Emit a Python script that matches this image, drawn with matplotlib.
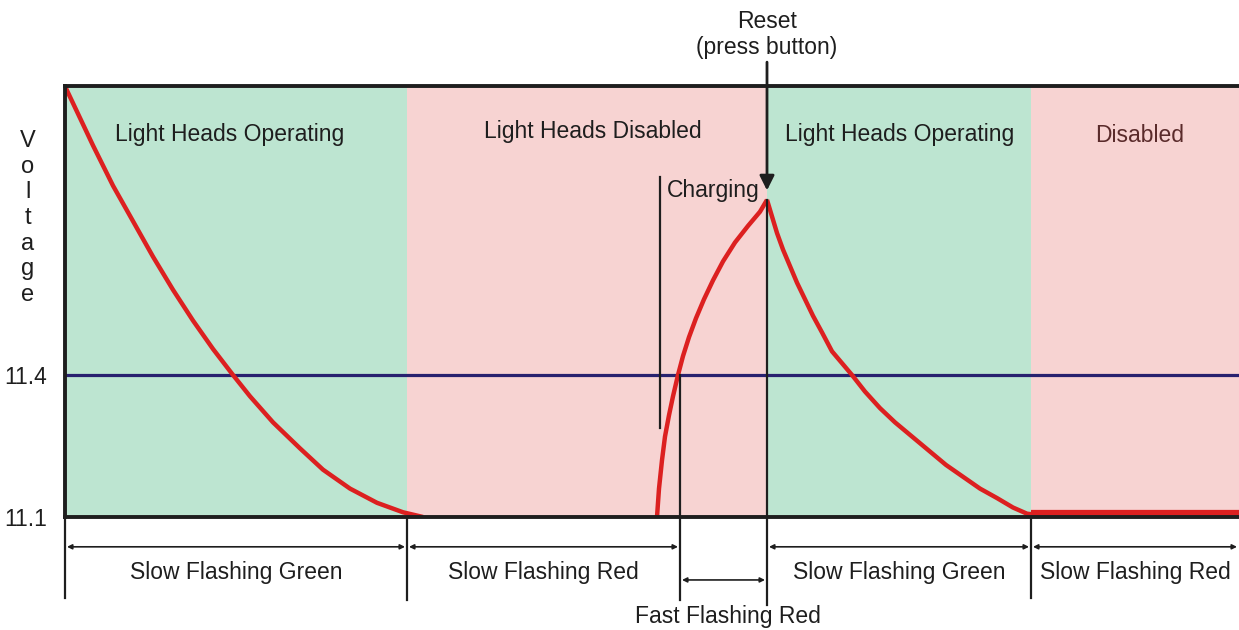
import matplotlib.pyplot as plt

plt.rcParams['font.family'] = ['Liberation Sans', 'DejaVu Sans']

# discharge 1 (time units, volts)
t_dis1 = [0, 28, 48, 68, 88, 108, 128, 148, 168, 185, 208, 235, 258, 285, 312, 338, 358]
v_dis1 = [12.01, 11.885, 11.80, 11.725, 11.65, 11.58, 11.515, 11.455, 11.40, 11.355,
          11.30, 11.245, 11.20, 11.16, 11.13, 11.11, 11.10]

# charging
t_chg = [592, 594, 597, 600, 604, 608, 613, 618, 624, 631, 639, 648, 658, 670, 683, 695, 702]
v_chg = [11.10, 11.16, 11.22, 11.27, 11.315, 11.355, 11.40, 11.44, 11.48, 11.52, 11.56,
         11.60, 11.64, 11.68, 11.715, 11.745, 11.77]

# discharge 2
t_dis2 = [702, 707, 712, 718, 725, 732, 740, 748, 757, 767, 777, 787, 800, 815, 830, 847,
          864, 881, 898, 915, 932, 948, 962, 966]
v_dis2 = [11.77, 11.735, 11.70, 11.665, 11.63, 11.595, 11.56, 11.525, 11.49, 11.45, 11.425,
          11.40, 11.365, 11.33, 11.30, 11.27, 11.24, 11.21, 11.185, 11.16, 11.14, 11.12,
          11.107, 11.106]

# flat at cut-off
t_flat = [966, 1174]
v_flat = [11.108, 11.108]

threshold = 11.4
yticks = [11.1, 11.4]
ytick_labels = ['11.1', '11.4']

# state bands
band_edges = [0, 342, 702, 966, 1174]
band_kind = ['on', 'off', 'on', 'off']
band_labels = ['Light Heads Operating', 'Light Heads Disabled', 'Light Heads Operating', 'Disabled']

# flashing segments
flash_segments = [(0, 342, 'Slow Flashing Green'), (342, 615, 'Slow Flashing Red'),
                  (702, 966, 'Slow Flashing Green'), (966, 1174, 'Slow Flashing Red')]
fast_segment = (615, 702, 'Fast Flashing Red')
t_charge_start = 595
t_reset = 702

GREEN = '#bde5d1'
PINK = '#f7d3d2'
RED = '#dc2020'
NAVY = '#28216f'
INK = '#1e1e1e'
FS = 16.5

fig = plt.figure(figsize=(12.39, 6.30), dpi=100)
ax = fig.add_axes([65 / 1239, 113 / 630, 1174 / 1239, 431 / 630])
ax.set_xlim(0, 1174)
ax.set_ylim(11.1, 12.0106)

for i, kind in enumerate(band_kind):
    ax.axvspan(band_edges[i], band_edges[i + 1], color=GREEN if kind == 'on' else PINK, lw=0, zorder=0)

ax.axhline(threshold, color=NAVY, lw=2.3, zorder=2)

ax.plot(t_dis1, v_dis1, color=RED, lw=3.2, zorder=3, solid_capstyle='butt')
ax.plot(t_chg, v_chg, color=RED, lw=3.2, zorder=3, solid_capstyle='butt')
ax.plot(t_dis2, v_dis2, color=RED, lw=3.2, zorder=3, solid_capstyle='butt')
ax.plot(t_flat, v_flat, color=RED, lw=4.5, zorder=3, solid_capstyle='butt')

# band titles
title_x = [165, 528, 835, 1075]
title_y = [11.909, 11.915, 11.909, 11.905]
for i, lab in enumerate(band_labels):
    col = '#5a2b2b' if lab == 'Disabled' else INK
    ax.text(title_x[i], title_y[i], lab, ha='center', va='center', fontsize=FS, color=col, zorder=5)

# spines / ticks
for s in ['left', 'top', 'bottom']:
    ax.spines[s].set_linewidth(2.8)
    ax.spines[s].set_color(INK)
    ax.spines[s].set_zorder(6)
ax.spines['right'].set_visible(False)
ax.set_xticks([])
ax.set_yticks(yticks)
ax.set_yticklabels(ytick_labels, fontsize=16.5, color=INK)
ax.tick_params(axis='y', length=0, pad=13)

fig.text(28 / 1239, 1 - 218 / 630, 'V\no\nl\nt\na\ng\ne', ha='center', va='center',
         fontsize=17, color=INK, linespacing=1.22)

# charging marker
ax.plot([t_charge_start, t_charge_start], [11.818, 11.288], color=INK, lw=1.6, zorder=4)
ax.text(t_charge_start + 7, 11.79, 'Charging', ha='left', va='center', fontsize=FS, color=INK, zorder=5)

# reset arrow + label
ax.annotate('', xy=(t_reset, 11.79), xytext=(t_reset, 12.061), annotation_clip=False,
            arrowprops=dict(arrowstyle='-|>', color=INK, lw=2, mutation_scale=22, shrinkA=0, shrinkB=0),
            zorder=6)
ax.text(t_reset, 12.12, 'Reset\n(press button)', ha='center', va='center', fontsize=FS,
        color=INK, linespacing=1.15, clip_on=False)

# vertical guide lines
ax.plot([t_reset, t_reset], [11.77, 10.914], color=INK, lw=1.6, clip_on=False, zorder=4)
ax.plot([615, 615], [11.40, 10.925], color=INK, lw=1.6, clip_on=False, zorder=4)
for xb, yb in [(0, 10.929), (342, 10.925), (966, 10.929)]:
    ax.plot([xb, xb], [11.1, yb], color=INK, lw=1.6, clip_on=False, zorder=4)

# dimension arrows
arrow_kw = dict(arrowstyle='<|-|>', color=INK, lw=1.2, mutation_scale=7, shrinkA=0, shrinkB=0)
for a, b, lab in flash_segments:
    ax.annotate('', xy=(a + 2, 11.037), xytext=(b - 2, 11.037), annotation_clip=False, arrowprops=arrow_kw)
    ax.text((a + b) / 2, 10.983, lab, ha='center', va='center', fontsize=FS, color=INK, clip_on=False)

a, b, lab = fast_segment
ax.annotate('', xy=(a + 2, 10.967), xytext=(b - 2, 10.967), annotation_clip=False, arrowprops=arrow_kw)
ax.text((a + b) / 2 + 4, 10.889, lab, ha='center', va='center', fontsize=FS, color=INK, clip_on=False)

plt.savefig('out.png', dpi=100)
